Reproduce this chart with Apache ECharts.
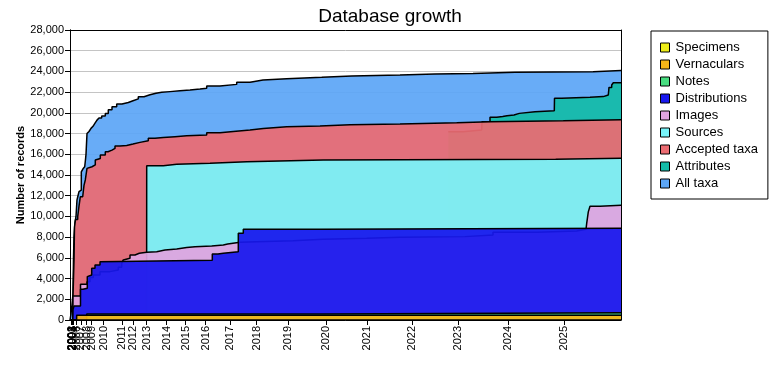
<!DOCTYPE html>
<html>
<head>
<meta charset="utf-8">
<script src="https://cdn.jsdelivr.net/npm/echarts@6/dist/echarts.min.js"></script>
<style>html,body{margin:0;padding:0;background:#fff}#c{width:780px;height:380px}</style>
</head>
<body>
<div id="c"></div>
<script>
// x = update sequence index (non-linear in time), y = cumulative number of records
const yearTickIndex = [1, 1.5, 2, 2.5, 3, 3.3, 6.7, 11, 16.7, 21.7, 33.7, 52, 63.3, 76.7, 96.7, 115.5, 135.5, 160, 186.7, 218.3, 256, 297.3, 342.3, 388.3, 438.3, 494];
const yearTickLabel = ['2000','2001','2002','2003','2004','2005','2006','2007','2008','2009','2010','2011','2012','2013','2014','2015','2016','2017','2018','2019','2020','2021','2022','2023','2024','2025'];
const lastIndex = 551;

const allTaxa = [[0,0],[1,600],[2,1500],[3,2500],[3.5,6000],[4,8000],[5,9400],[6,10000],[7,11600],[8,12000],[9,12400],[10.3,12550],[11.3,14300],[13,14600],[14.7,14800],[15.5,15500],[16,16000],[17,18000],[19,18200],[21,18500],[23,18700],[25,19000],[27,19300],[29,19500],[31.7,19700],[35.3,19950],[38.3,20300],[42,20600],[46.7,20850],[52,21000],[58.3,21170],[63,21350],[68.3,21560],[74,21750],[80,21890],[86,21980],[91.7,22050],[100,22130],[110,22210],[120,22300],[130,22370],[136.7,22590],[150,22750],[166.7,22950],[180,23010],[183,23170],[193,23300],[216.7,23430],[251.7,23560],[281.7,23650],[330,23750],[365,23810],[403,23910],[445,23970],[523,24080],[551,24080]];
const attributes = [[378.3,18180],[393.3,18340],[411.7,18500],[412,19150],[420,19570],[426.7,19640],[432.7,19730],[437,19800],[444,19950],[449.3,20110],[465,20210],[484.3,20280],[484.5,21410],[491.7,21500],[520,21570],[533.3,21720],[538.3,21890],[539,22460],[541.7,22690],[543.3,22910],[551,22950]];
const acceptedTaxa = [[0,0],[2.8,0],[3,2300],[4,5800],[4.5,9000],[5.5,9700],[7.7,9980],[9,11000],[10.3,11900],[12.7,12070],[14,13000],[15.3,13520],[17,14640],[19,14800],[22,14970],[25.3,15450],[27,15600],[30.3,15930],[35.3,16250],[38,16400],[42,16570],[45,16800],[50,16850],[56.7,16990],[63,17150],[70,17310],[78.3,17540],[85,17620],[93.3,17700],[105,17780],[116.7,17860],[136.7,18090],[150,18200],[163.3,18340],[180,18500],[193.3,18660],[216.7,18730],[250,18860],[280,18920],[330,19050],[386.7,19150],[420,19240],[493.3,19340],[551,19340]];
const sources = [[76.6,0],[76.7,14900],[93.3,15030],[106.7,15130],[140,15290],[176.7,15450],[253.3,15510],[485.7,15610],[551,15610]];
const images = [[0,0],[2.8,0],[3,2320],[10.5,3440],[17,3700],[20,4100],[23.3,4350],[30,4670],[40,4830],[48.3,5090],[51.7,5470],[53.3,5800],[55,5960],[60,6280],[65,6440],[69.3,6530],[76.7,6600],[86.7,6760],[95,6860],[106.7,6990],[116.7,7080],[125,7150],[141.7,7240],[153.3,7340],[157.7,7500],[170,7560],[186.7,7660],[223,7790],[253,7890],[296.7,7980],[330,8050],[395,8210],[423,8470],[466.7,8590],[506.7,8760],[516,8820],[516.7,9330],[518.3,10440],[520,10990],[530,11070],[551,11070]];
const distributions = [[0,0],[2.8,0],[3,1000],[4,1350],[10.5,2960],[13,3060],[17.3,4190],[18.5,4350],[21.7,4990],[25,5310],[30,5630],[31.7,5780],[142.3,6370],[148,6440],[153.3,6600],[168.3,8370],[173.3,8760],[250,8850],[551,8850]];
const notes = [[0,0],[16.6,0],[16.7,580],[251.7,700],[551,700]];
const vernaculars = [[0,0],[6.6,0],[6.7,470],[551,470]];
const specimens = [[0,0],[551,0]];

const seriesNames = ['All taxa','Attributes','Accepted taxa','Sources','Images','Distributions','Notes','Vernaculars','Specimens'];
const seriesData = [allTaxa, attributes, acceptedTaxa, sources, images, distributions, notes, vernaculars, specimens];
const seriesColors = ['#5ca6f6','#14bba8','#ec6c72','#78f4fa','#e0a4e0','#1818ee','#48de80','#f6b618','#ecec18'];
const legendOrder = ['Specimens','Vernaculars','Notes','Distributions','Images','Sources','Accepted taxa','Attributes','All taxa'];

const FONT = 'Arial, "Liberation Sans", sans-serif';
const chart = echarts.init(document.getElementById('c'), null, {renderer: 'canvas'});

const yearMap = {};
yearTickIndex.forEach((v, i) => { yearMap[v] = yearTickLabel[i]; });

const frameAxis = (extra) => Object.assign({
  type: 'value', z: 50,
  axisLine: {show: true, onZero: false, lineStyle: {color: '#000', width: 1}},
  axisTick: {show: false}, axisLabel: {show: false}, splitLine: {show: false}
}, extra);

chart.setOption({
  animation: false,
  backgroundColor: '#fff',
  title: {
    text: 'Database growth', left: 'center', top: 2,
    textStyle: {fontFamily: FONT, fontSize: 19, fontWeight: 'normal', color: '#000'}
  },
  legend: {
    data: legendOrder, orient: 'vertical', left: 651, top: 31,
    padding: [10, 10, 9, 9], itemWidth: 9, itemHeight: 9, itemGap: 4,
    icon: 'rect', borderColor: '#000', borderWidth: 1, backgroundColor: '#fff',
    itemStyle: {borderColor: '#000', borderWidth: 1},
    textStyle: {fontFamily: FONT, fontSize: 13, color: '#000', padding: [0, 0, 0, 1]},
    selectedMode: false
  },
  grid: {left: 70, right: 159, top: 30, bottom: 60, containLabel: false},
  xAxis: [{
    type: 'value', min: 0, max: lastIndex, z: 50,
    axisLine: {show: true, onZero: false, lineStyle: {color: '#000', width: 1}},
    axisTick: {show: true, length: 5, lineStyle: {color: '#000'}, customValues: yearTickIndex},
    axisLabel: {
      customValues: yearTickIndex, rotate: 90, margin: 6,
      fontFamily: FONT, fontSize: 11, color: '#000',
      formatter: v => yearMap[v] !== undefined ? yearMap[v] : ''
    },
    splitLine: {show: false}
  }, frameAxis({min: 0, max: lastIndex, position: 'top'})],
  yAxis: [{
    type: 'value', min: 0, max: 28000, interval: 2000, z: 0,
    name: 'Number of records', nameLocation: 'middle', nameGap: 44, nameMoveOverlap: false,
    nameTextStyle: {fontFamily: FONT, fontSize: 11, fontWeight: 'bold', color: '#000'},
    axisLine: {show: true, lineStyle: {color: '#000', width: 1}},
    axisTick: {show: true, length: 5, lineStyle: {color: '#000'}},
    axisLabel: {fontFamily: FONT, fontSize: 11, color: '#000', margin: 6,
      formatter: v => v.toLocaleString('en-US')},
    splitLine: {show: true, lineStyle: {color: '#c4c4c4', width: 1}}
  },
  frameAxis({min: 0, max: 28000, position: 'right'}),
  frameAxis({min: 0, max: 28000, position: 'left'})],
  series: seriesNames.map((name, i) => ({
    name: name, type: 'line', step: 'end', data: seriesData[i],
    xAxisIndex: 0, yAxisIndex: 0, z: 2 + i,
    showSymbol: false, symbol: 'none',
    itemStyle: {color: seriesColors[i]},
    lineStyle: {color: '#000', width: 1.5},
    areaStyle: {color: seriesColors[i], opacity: 0.93},
    emphasis: {disabled: true}
  }))
});
</script>
</body>
</html>
